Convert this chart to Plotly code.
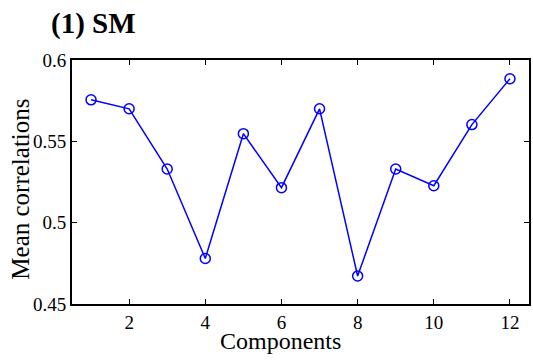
import plotly.graph_objects as go

# Mean correlation per component
components = [1, 2, 3, 4, 5, 6, 7, 8, 9, 10, 11, 12]
mean_corr = [0.5755, 0.570, 0.533, 0.478, 0.5547, 0.5215,
             0.570, 0.4672, 0.533, 0.5227, 0.5603, 0.5885]

x_ticks = [2, 4, 6, 8, 10, 12]
y_ticks = [0.45, 0.5, 0.55, 0.6]
y_tick_labels = ["0.45", "0.5", "0.55", "0.6"]

font_family = "Liberation Serif"

fig = go.Figure()
fig.add_trace(go.Scatter(
    x=components, y=mean_corr,
    mode="lines+markers",
    line=dict(color="#0000FF", width=1.5),
    marker=dict(symbol="circle-open", size=10, color="#0000FF",
                line=dict(width=1.5, color="#0000FF")),
    showlegend=False,
))

axis_common = dict(
    showline=True, linecolor="black", linewidth=2, mirror="allticks",
    ticks="inside", ticklen=5, tickwidth=1, tickcolor="black",
    showgrid=False, zeroline=False,
    tickfont=dict(family=font_family, size=19, color="black"),
)

fig.update_xaxes(range=[0.5, 12.5], tickvals=x_ticks, **axis_common)
fig.update_yaxes(range=[0.45, 0.6], tickvals=y_ticks, ticktext=y_tick_labels,
                 **axis_common)

# Axis titles placed as annotations so they can sit close to the tick labels
fig.add_annotation(
    text="Components", xref="paper", yref="paper",
    x=0.457, y=-0.15, xanchor="center", yanchor="middle",
    showarrow=False,
    font=dict(family=font_family, size=24, color="black"),
)
fig.add_annotation(
    text="Mean correlations", xref="paper", yref="paper",
    x=-0.113, y=0.47, xanchor="center", yanchor="middle", textangle=-90,
    showarrow=False,
    font=dict(family=font_family, size=25, color="black"),
)

fig.add_annotation(
    text="<b>(1) SM</b>", xref="paper", yref="paper",
    x=-0.05, y=1.15, xanchor="left", yanchor="middle",
    showarrow=False,
    font=dict(family=font_family, size=29, color="black"),
)

fig.update_layout(
    width=533, height=360,
    margin=dict(l=72, r=2, t=60, b=56),
    font=dict(family=font_family, size=19, color="black"),
    paper_bgcolor="white", plot_bgcolor="white",
)

fig.write_html("out.html")
